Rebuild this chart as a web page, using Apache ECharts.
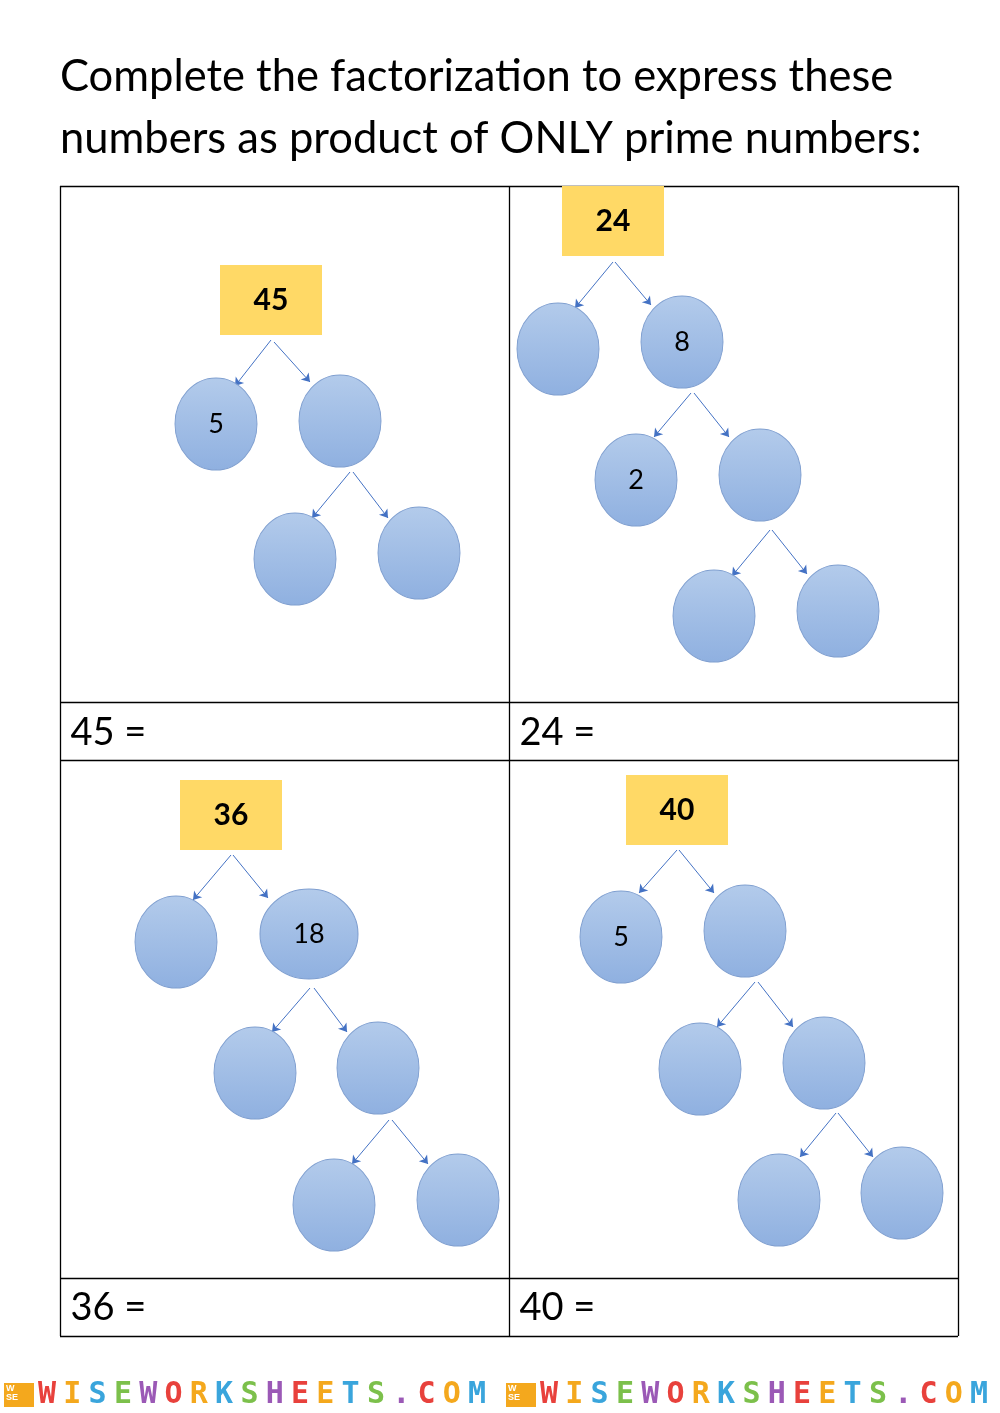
<!DOCTYPE html>
<html><head><meta charset="utf-8">
<script src="https://cdn.jsdelivr.net/npm/echarts@6/dist/echarts.min.js"></script>
<style>html,body{margin:0;padding:0;background:#fff}#c{width:1000px;height:1413px}</style>
</head><body><div id="c"></div>
<script>
const titleLines = ["Complete the factorization to express these", "numbers as product of ONLY prime numbers:"];
const rootBoxes = [["45",271,300],["24",613,221],["36",231,815],["40",677,810]];
const circleNodes = [
 ["5",216,424],["",340,421],["",295,559],["",419,553],
 ["",558,349],["8",682,342],["2",636,480],["",760,475],["",714,616],["",838,611],
 ["",176,942],["18",309,934],["",255,1073],["",378,1068],["",334,1205],["",458,1200],
 ["5",621,937],["",745,931],["",700,1069],["",824,1063],["",779,1200],["",902,1193]
];
const wideNodes = ["18"];
const arrows = [
 [[271,340],[235,386]],[[274,342],[310,382]],[[350,472],[312,518]],[[353,472],[388,518]],
 [[613,262],[575,308]],[[615,262],[651,305]],[[691,393],[654,437]],[[694,393],[729,437]],[[770,530],[732,576]],[[772,530],[807,574]],
 [[231,855],[193,900]],[[233,855],[268,898]],[[310,988],[272,1032]],[[314,988],[347,1032]],[[389,1120],[352,1164]],[[392,1120],[428,1164]],
 [[677,850],[639,893]],[[679,850],[714,893]],[[755,982],[717,1027]],[[758,982],[793,1027]],[[836,1113],[800,1157]],[[838,1113],[873,1157]]
];
const equations = [["45 =",70,733],["24 =",519,733],["36 =",70,1308],["40 =",519,1308]];
const tableLines = [
 [[60,186],[958,186]],[[60,702],[958,702]],[[60,760],[958,760]],[[60,1278],[958,1278]],[[60,1336],[958,1336]],
 [[60,186],[60,1336]],[[509,186],[509,1336]],[[958,186],[958,1336]]
];
const footerText = "WISEWORKSHEETS.COM";

const chart = echarts.init(document.getElementById('c'));
const font = 'Lato, "Open Sans", sans-serif';
const fill = new echarts.graphic.LinearGradient(0,0,0,1,[{offset:0,color:'#b3cbeb'},{offset:1,color:'#8fb0e0'}]);
const letterColors = ['#e8413c','#f4a81d','#3aa5dc','#7cc04b','#9b59b6'];
const footerGraphics = [];
[0,502].forEach(off=>{
  footerGraphics.push({type:'rect',shape:{x:off+4,y:1383,width:30,height:24},style:{fill:'#f4a81d'}});
  footerGraphics.push({type:'text',x:off+6,y:1384,style:{text:'W\nSE',font:'bold 9px sans-serif',fill:'#fff'}});
  for(let i=0;i<footerText.length;i++){
    footerGraphics.push({type:'text',x:off+38+i*25.3,y:1395,style:{text:footerText[i],font:'bold 30px "DejaVu Sans Mono"',fill:letterColors[i%5],stroke:'#fff',lineWidth:1,verticalAlign:'middle'}});
  }
});
chart.setOption({
  animation:false,
  grid:{left:0,right:0,top:0,bottom:0},
  xAxis:{type:'value',min:0,max:1000,show:false},
  yAxis:{type:'value',min:0,max:1413,inverse:true,show:false},
  graphic: titleLines.map((t,i)=>({type:'text',left:60,top:55+i*62,style:{text:t,font:'43.5px '+font,fill:'#000'}})).concat(footerGraphics),
  series:[
    {type:'lines',coordinateSystem:'cartesian2d',silent:true,lineStyle:{color:'#000',width:1.3,opacity:1},
     data:tableLines.map(c=>({coords:c})),z:1},
    {type:'lines',coordinateSystem:'cartesian2d',silent:true,symbol:['none','arrow'],symbolSize:8,
     lineStyle:{color:'#4472c4',width:1,opacity:1},data:arrows.map(c=>({coords:c})),z:2},
    {type:'scatter',symbol:'rect',symbolSize:[102,70],itemStyle:{color:'#ffd966',opacity:1},silent:true,
     data:rootBoxes.map(b=>({value:[b[1],b[2]],name:b[0]})),
     label:{show:true,position:'inside',formatter:'{b}',fontFamily:font,fontWeight:'bold',fontSize:30,color:'#000'},z:3},
    {type:'scatter',symbol:'circle',silent:true,
     data:circleNodes.map(n=>({value:[n[1],n[2]],name:n[0],symbolSize:wideNodes.includes(n[0])?[98,90]:[82,92]})),
     itemStyle:{color:fill,borderColor:'#7f9fd0',borderWidth:1,opacity:1},
     label:{show:true,position:'inside',formatter:'{b}',fontFamily:font,fontSize:27,color:'#000'},z:3},
    {type:'scatter',symbolSize:1,silent:true,itemStyle:{opacity:0},data:equations.map(e=>({value:[e[1],e[2]],name:e[0]})),
     label:{show:true,position:'right',distance:0,formatter:'{b}',fontFamily:font,fontSize:38,color:'#000',opacity:1}}
  ]
});
</script></body></html>
